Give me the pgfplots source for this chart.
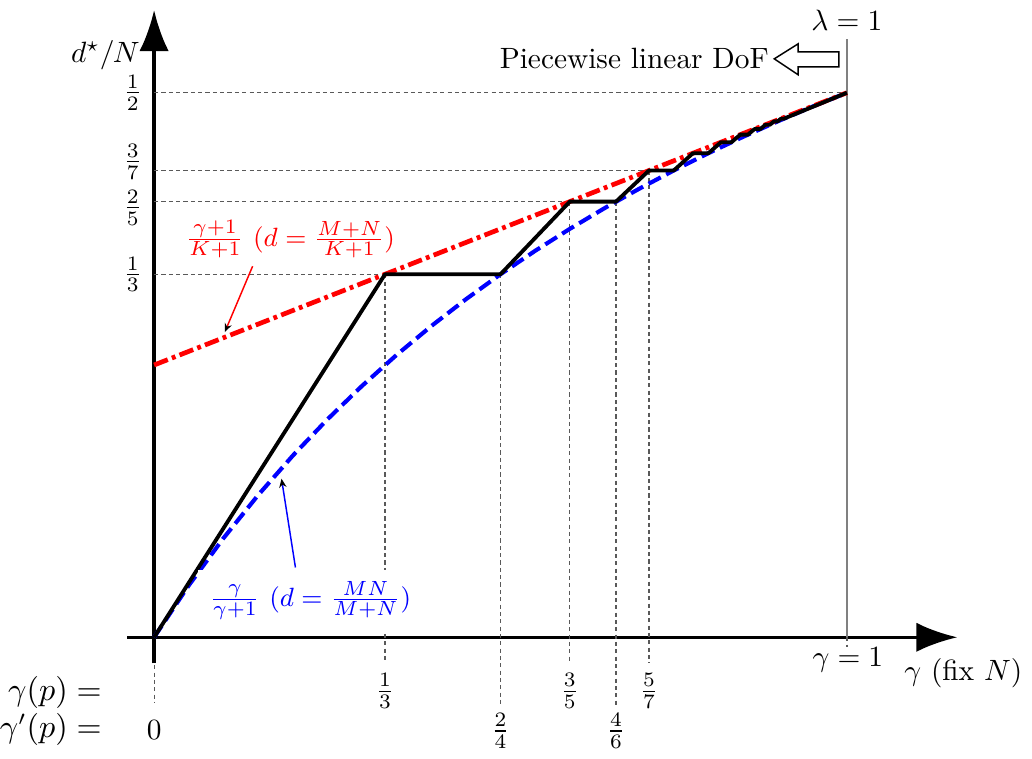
\documentclass[border=0pt]{standalone}
\usepackage{pgfplots}
\pgfplotsset{compat=1.18}
\usetikzlibrary{arrows.meta}

\begin{document}
\begin{tikzpicture}
\begin{axis}[
  x=236pt, y=371pt,
  xmin=-0.039, xmax=1.1595, ymin=-0.024, ymax=0.576,
  axis lines=middle,
  axis line style={line width=1.2pt},
  every inner x axis line/.append style={-{Latex[length=14pt,width=10pt]}},
  every inner y axis line/.append style={-{Latex[length=14pt,width=10pt]}},
  xtick=\empty, ytick=\empty,
  clip=false,
]
% guide lines
\draw[black!65, line width=0.4pt, dash pattern=on 1.4pt off 1.1pt]
  (0,0.5) -- (1,0.5)
  (0,0.42857) -- (0.71429,0.42857)
  (0,0.4) -- (0.6,0.4)
  (0,0.33333) -- (0.33333,0.33333)
  (0.33333,0.33333) -- (0.33333,-0.0211)
  (0.5,0.33333) -- (0.5,-0.0623)
  (0.6,0.4) -- (0.6,-0.0238)
  (0.66667,0.4) -- (0.66667,-0.0623)
  (0.71429,0.42857) -- (0.71429,-0.0238)
  (0,-0.0256) -- (0,-0.0604)
  (1,0) -- (1,-0.009);
\draw[black!50, line width=0.7pt] (1,0) -- (1,0.5495);

% gamma/(gamma+1)
\addplot[blue, line width=1.4pt, dash pattern=on 4.7pt off 2.1pt] coordinates {
  (0,0) (0.05,0.047619) (0.1,0.090909) (0.15,0.130435) (0.2,0.166667)
  (0.25,0.2) (0.3,0.230769) (0.35,0.259259) (0.4,0.285714) (0.45,0.310345)
  (0.5,0.333333) (0.55,0.354839) (0.6,0.375) (0.65,0.393939) (0.7,0.411765)
  (0.75,0.428571) (0.8,0.444444) (0.85,0.459459) (0.9,0.473684)
  (0.95,0.487179) (1,0.5)
};
% (gamma+1)/(K+1)
\addplot[red, line width=1.6pt, dash pattern=on 5pt off 1.5pt on 1.3pt off 1.5pt] coordinates {
  (0,0.25) (1,0.5)
};
% piecewise linear DoF
\addplot[black, line width=1.3pt, line join=round] coordinates {
  (0,0) (0.33333,0.33333) (0.5,0.33333) (0.6,0.4) (0.66667,0.4)
  (0.71429,0.42857) (0.75,0.42857) (0.77778,0.44444) (0.8,0.44444)
  (0.81818,0.45455) (0.83333,0.45455) (0.84615,0.46154) (0.85714,0.46154)
  (0.86667,0.46667) (0.875,0.46667) (0.88235,0.47059) (0.88889,0.47059)
  (0.89474,0.47368) (0.9,0.47368) (0.90476,0.47619) (0.90909,0.47619)
  (1,0.5)
};

% y labels
\node[anchor=east, inner sep=0pt] at (-0.0165,0.5) {$\frac{1}{2}$};
\node[anchor=east, inner sep=0pt] at (-0.0165,0.4368) {$\frac{3}{7}$};
\node[anchor=east, inner sep=0pt] at (-0.0165,0.3945) {$\frac{2}{5}$};
\node[anchor=east, inner sep=0pt] at (-0.0165,0.33333) {$\frac{1}{3}$};

% annotations
\node[red, fill=white, inner sep=1pt, font=\fontsize{9.5}{11}\selectfont] at (0.1968,0.3654)
  {$\frac{\gamma+1}{K+1}\ (d=\frac{M+N}{K+1})$};
\draw[red, line width=0.5pt, -{Stealth[length=3pt,width=2.5pt,black]}] (0.1422,0.3407) -- (0.1020,0.2802);
\node[blue, fill=white, inner sep=4pt, font=\fontsize{9.5}{11}\selectfont] at (0.2256,0.0339)
  {$\frac{\gamma}{\gamma+1}\ (d=\frac{MN}{M+N})$};
\draw[blue, line width=0.5pt, -{Stealth[length=3pt,width=2.5pt,black]}] (0.2040,0.0641) -- (0.1839,0.1456);

\node at (-0.0704,0.5348) {$d^\star/N$};
\node at (1,0.5668) {$\lambda=1$};
\node[anchor=east, inner sep=0pt] at (0.888,0.5311) {Piecewise linear DoF};
\draw[black, line width=0.5pt, fill=white]
  (0.8951,0.5311) -- (0.9296,0.5449) -- (0.9296,0.5375) -- (0.9885,0.5375)
  -- (0.9885,0.5238) -- (0.9296,0.5238) -- (0.9296,0.5165) -- cycle;

\node at (1.0014,-0.0211) {$\gamma=1$};
\node at (1.168,-0.033) {$\gamma$ (fix $N$)};
\node[anchor=east, inner sep=0pt, font=\fontsize{10.7}{12}\selectfont] at (-0.0747,-0.0504) {$\gamma(p)=$};
\node[anchor=east, inner sep=0pt, font=\fontsize{10.7}{12}\selectfont] at (-0.0747,-0.0842) {$\gamma'(p)=$};
\node at (0,-0.0852) {$0$};
\node at (0.33333,-0.0495) {$\frac{1}{3}$};
\node at (0.6,-0.0495) {$\frac{3}{5}$};
\node at (0.71429,-0.0495) {$\frac{5}{7}$};
\node at (0.5,-0.0861) {$\frac{2}{4}$};
\node at (0.66667,-0.0861) {$\frac{4}{6}$};
\end{axis}
\end{tikzpicture}
\end{document}
